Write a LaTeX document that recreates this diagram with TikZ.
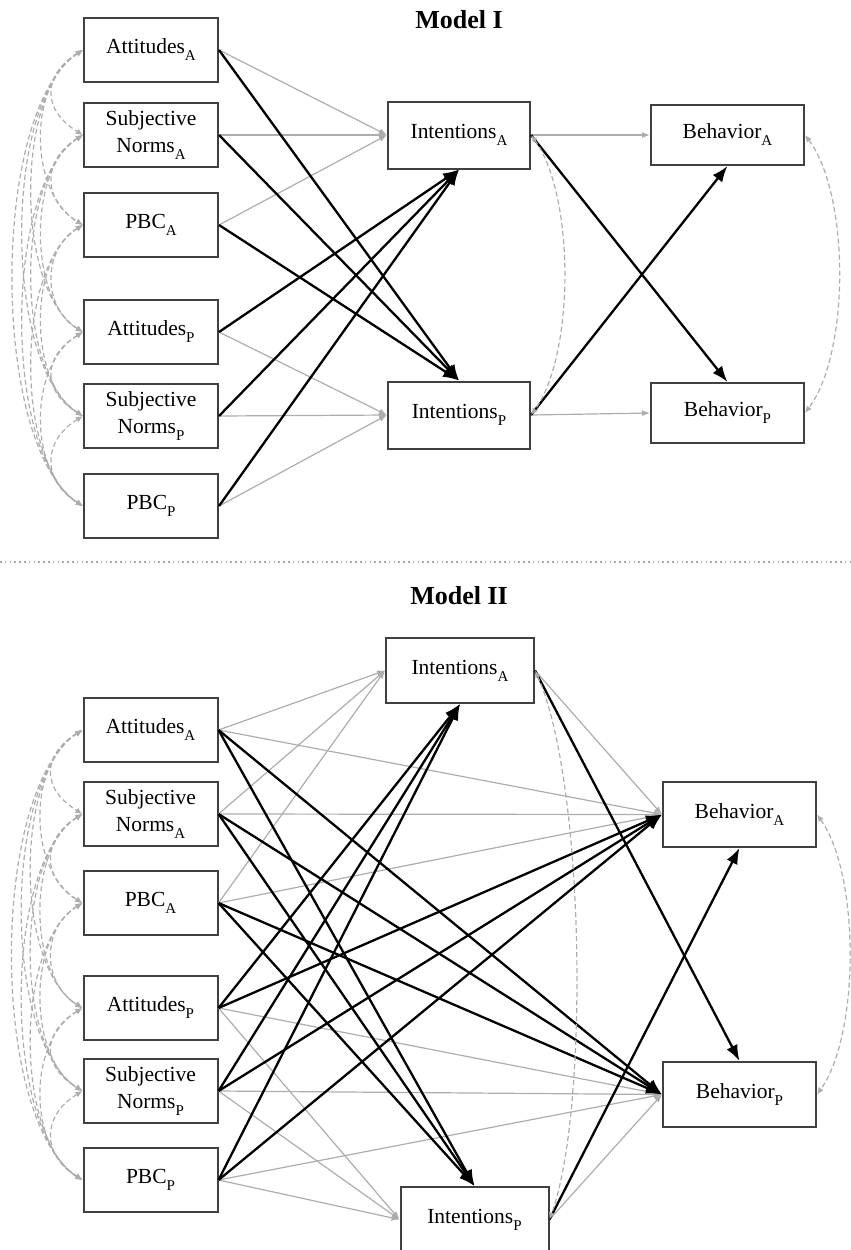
\documentclass[tikz,border=0pt]{standalone}
\usepackage{fontspec}
\setmainfont{Liberation Serif}
\usetikzlibrary{arrows.meta}
\newcommand{\sbs}[1]{\raisebox{-3.5pt}{\fontsize{7.5}{8}\selectfont #1}}
\begin{document}
\begin{tikzpicture}[x=0.5pt,y=-0.5pt,
  box/.style={draw=black!75,line width=1pt,fill=white,inner sep=1pt,align=center,font=\fontsize{10.75}{13.5}\selectfont},
  lbox/.style={box,minimum width=67pt,minimum height=32pt},
  ibox/.style={box,minimum width=71pt,minimum height=33.5pt},
  bbox/.style={box,minimum width=76.5pt,minimum height=30pt},
  jbox/.style={box,minimum width=74pt,minimum height=32.5pt},
  cbox/.style={box,minimum width=76.5pt,minimum height=32.5pt},
  gar/.style={draw=black!32,line width=0.6pt,-{Latex[length=4pt,width=3pt]}},
  bar/.style={draw=black,line width=1.15pt,-{Latex[length=8pt,width=6pt]}},
  cov/.style={draw=black!32,line width=0.6pt,dash pattern=on 2.5pt off 1.5pt,{Latex[length=3.5pt,width=3pt]}-{Latex[length=3.5pt,width=3pt]}},
  ttl/.style={font=\bfseries\fontsize{13}{15}\selectfont}]
\useasboundingbox (0,0) rectangle (851,1250);

% ---------------- Model I ----------------
\node[ttl] (t1) at (459,20) {Model I};
\node[lbox] (l1) at (151,50) {Attitudes\sbs{A}};
\node[lbox] (l2) at (151,135) {Subjective\\Norms\sbs{A}};
\node[lbox] (l3) at (151,225) {PBC\sbs{A}};
\node[lbox] (l4) at (151,332) {Attitudes\sbs{P}};
\node[lbox] (l5) at (151,416) {Subjective\\Norms\sbs{P}};
\node[lbox] (l6) at (151,506) {PBC\sbs{P}};
\node[ibox] (ia) at (459,135) {Intentions\sbs{A}};
\node[ibox] (ip) at (459,415) {Intentions\sbs{P}};
\node[bbox] (ba) at (727.5,135) {Behavior\sbs{A}};
\node[bbox] (bp) at (727.5,413) {Behavior\sbs{P}};

\foreach \s in {1,2,3} {\draw[gar] (l\s.east) -- (ia.west);}
\foreach \s in {4,5,6} {\draw[gar] (l\s.east) -- (ip.west);}
\draw[gar] (ia.east) -- (ba.west);
\draw[gar] (ip.east) -- (bp.west);
\foreach \s in {1,2,3} {\draw[bar] (l\s.east) -- (ip.north);}
\foreach \s in {4,5,6} {\draw[bar] (l\s.east) -- (ia.south);}
\draw[bar] (ia.east) -- (bp.north);
\draw[bar] (ip.east) -- (ba.south);

\foreach \i/\j/\d/\c in {1/2/41/25,2/3/41/25,3/4/41/25,4/5/41/25,5/6/41/25,
  1/3/55/33,2/4/55/33,3/5/55/33,4/6/55/33,
  1/4/68/42,2/5/68/42,3/6/68/42,
  1/5/80/50,2/6/80/50,
  1/6/93/60}
  {\draw[cov] (l\i.west) .. controls +(-\d,\c) and +(-\d,-\c) .. (l\j.west);}
\draw[cov] (ia.east) .. controls +(44,60) and +(44,-60) .. (ip.east);
\draw[cov] (ba.east) .. controls +(45,60) and +(45,-60) .. (bp.east);

% separator
\coordinate (s1) at (0,562);
\coordinate (s2) at (851,562);
\draw[black!35,line width=0.6pt,dash pattern=on 0.8pt off 1.6pt] (s1) -- (s2);

% ---------------- Model II ----------------
\node[ttl] (t2) at (459,596) {Model II};
\node[lbox] (m1) at (150.5,730) {Attitudes\sbs{A}};
\node[lbox] (m2) at (150.5,814) {Subjective\\Norms\sbs{A}};
\node[lbox] (m3) at (150.5,903) {PBC\sbs{A}};
\node[lbox] (m4) at (150.5,1008) {Attitudes\sbs{P}};
\node[lbox] (m5) at (150.5,1091) {Subjective\\Norms\sbs{P}};
\node[lbox] (m6) at (150.5,1180) {PBC\sbs{P}};
\node[jbox] (ja) at (460,670.5) {Intentions\sbs{A}};
\node[jbox] (jp) at (474.5,1219.5) {Intentions\sbs{P}};
\node[cbox] (ca) at (739.5,814.5) {Behavior\sbs{A}};
\node[cbox] (cp) at (739.5,1094.5) {Behavior\sbs{P}};

\foreach \s in {1,2,3} {\draw[gar] (m\s.east) -- (ja.west); \draw[gar] (m\s.east) -- (ca.west);}
\foreach \s in {4,5,6} {\draw[gar] (m\s.east) -- (jp.west); \draw[gar] (m\s.east) -- (cp.west);}
\draw[gar] (ja.east) -- (ca.west);
\draw[gar] (jp.east) -- (cp.west);
\foreach \s in {1,2,3} {\draw[bar] (m\s.east) -- (jp.north); \draw[bar] (m\s.east) -- (cp.west);}
\foreach \s in {4,5,6} {\draw[bar] (m\s.east) -- (ja.south); \draw[bar] (m\s.east) -- (ca.west);}
\draw[bar] (ja.east) -- (cp.north);
\draw[bar] (jp.east) -- (ca.south);

\foreach \i/\j/\d/\c in {1/2/41/25,2/3/41/25,3/4/41/25,4/5/41/25,5/6/41/25,
  1/3/55/33,2/4/55/33,3/5/55/33,4/6/55/33,
  1/4/68/42,2/5/68/42,3/6/68/42,
  1/5/80/50,2/6/80/50,
  1/6/93/60}
  {\draw[cov] (m\i.west) .. controls +(-\d,\c) and +(-\d,-\c) .. (m\j.west);}
\draw[cov] (ja.east) .. controls +(50,110) and +(40,-110) .. (jp.east);
\draw[cov] (ca.east) .. controls +(43,60) and +(43,-60) .. (cp.east);
\end{tikzpicture}
\end{document}
